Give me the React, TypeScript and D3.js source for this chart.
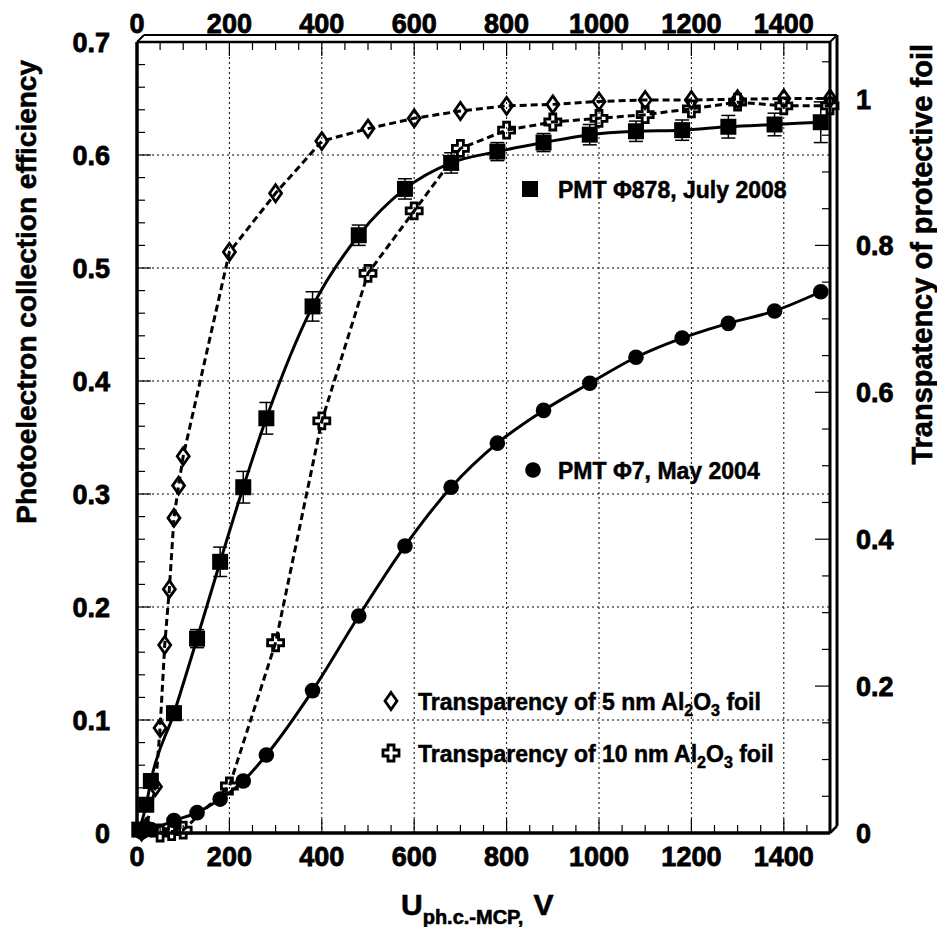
import React from "react";
import * as d3 from "d3";

// ---------- data ----------
const xTickValues = [0, 200, 400, 600, 800, 1000, 1200, 1400];
const leftTickValues = [0, 0.1, 0.2, 0.3, 0.4, 0.5, 0.6, 0.7];
const rightTickValues = [0, 0.2, 0.4, 0.6, 0.8, 1];
const gridX = [200, 400, 600, 800, 1000, 1200, 1400];
const gridY = [0.1, 0.2, 0.3, 0.4, 0.5, 0.6];

// PMT Φ878, July 2008 (left axis)
const squareX = [5, 20, 30, 80, 130, 180, 230, 280, 380, 480, 580, 680, 780, 880, 980, 1080, 1180, 1280, 1380, 1480];
const squareY = [0.003, 0.025, 0.046, 0.106, 0.172, 0.240, 0.306, 0.367, 0.466, 0.529, 0.570, 0.593, 0.603, 0.611, 0.618, 0.621, 0.622, 0.625, 0.627, 0.629];
const squareErr = [0.003, 0.005, 0.005, 0.006, 0.008, 0.013, 0.014, 0.014, 0.013, 0.009, 0.009, 0.009, 0.008, 0.008, 0.009, 0.009, 0.009, 0.010, 0.010, 0.018];

// PMT Φ7, May 2004 (left axis)
const circleX = [10, 30, 80, 130, 180, 230, 280, 380, 480, 580, 680, 780, 880, 980, 1080, 1180, 1280, 1380, 1480];
const circleY = [0.001, 0.003, 0.011, 0.018, 0.030, 0.046, 0.069, 0.126, 0.192, 0.254, 0.306, 0.345, 0.374, 0.398, 0.421, 0.438, 0.451, 0.462, 0.479];

// Transparency of 5 nm Al2O3 foil (right axis)
const diamondX = [10, 20, 40, 50, 60, 70, 80, 90, 100, 200, 300, 400, 500, 600, 700, 800, 900, 1000, 1100, 1200, 1300, 1400, 1500];
const diamondT = [0.002, 0.008, 0.063, 0.143, 0.256, 0.332, 0.429, 0.473, 0.513, 0.791, 0.871, 0.942, 0.959, 0.973, 0.983, 0.990, 0.992, 0.996, 0.998, 0.998, 0.999, 1.0, 1.0];

// Transparency of 10 nm Al2O3 foil (right axis)
const crossX = [50, 75, 100, 200, 300, 400, 500, 600, 700, 800, 900, 1000, 1100, 1200, 1300, 1400, 1500];
const crossT = [0.0, 0.002, 0.004, 0.064, 0.259, 0.561, 0.762, 0.847, 0.932, 0.957, 0.968, 0.973, 0.978, 0.986, 0.995, 0.990, 0.990];

// ---------- layout ----------
const W = 937;
const H = 927;
const L = 137, R = 830, T = 42, B = 833;
const OFF = 7;
const FONT = "'Liberation Sans', Arial, Helvetica, sans-serif";

const x = d3.scaleLinear().domain([0, 1500]).range([L, R]);
const yL = d3.scaleLinear().domain([0, 0.7]).range([B, T]);
const yR = d3.scaleLinear().domain([0, 0.7 / 0.65]).range([B, T]);

const crossPath = (a: number, l: number) =>
  `M${-a},${-l}H${a}V${-a}H${l}V${a}H${a}V${l}H${-a}V${a}H${-l}V${-a}H${-a}Z`;
const diamondPath = (w: number, h: number) => `M0,${-h}L${w},0L0,${h}L${-w},0Z`;

export default function App() {
  const sq = squareX.map((v, i) => [v, squareY[i], squareErr[i]]);
  const ci = circleX.map((v, i) => [v, circleY[i]]);
  const di = diamondX.map((v, i) => [v, diamondT[i]]);
  const cr = crossX.map((v, i) => [v, crossT[i]]);

  const smoothL = d3.line<number[]>().x((d) => x(d[0])).y((d) => yL(d[1])).curve(d3.curveMonotoneX);
  const linR = d3.line<number[]>().x((d) => x(d[0])).y((d) => yR(d[1]));

  const minorX = d3.range(0, 1501, 50);
  const minorL = d3.range(0, 0.7001, 0.02);
  const minorR = d3.range(0, 1.0501, 0.05);

  return (
    <svg width={W} height={H} style={{ position: "absolute", left: 0, top: 0, background: "#fff" }} fontFamily={FONT} fontWeight="bold">
      <rect x={0} y={0} width={W} height={H} fill="#fff" />
      {/* grid */}
      <g stroke="#000" strokeWidth={1} strokeDasharray="2,3">
        {gridX.map((v) => (
          <line key={"gx" + v} x1={x(v)} x2={x(v)} y1={T} y2={B} />
        ))}
        {gridY.map((v) => (
          <line key={"gy" + v} x1={L} x2={R} y1={yL(v)} y2={yL(v)} />
        ))}
      </g>

      {/* transparency dashed lines */}
      <path d={linR(di) || ""} fill="none" stroke="#000" strokeWidth={3} strokeDasharray="7,4" />
      <path d={linR(cr) || ""} fill="none" stroke="#000" strokeWidth={3} strokeDasharray="7,4" />
      {/* efficiency solid curves */}
      <path d={smoothL(sq) || ""} fill="none" stroke="#000" strokeWidth={3} />
      <path d={smoothL(ci) || ""} fill="none" stroke="#000" strokeWidth={3} />

      {/* markers: diamonds */}
      {di.map((d, i) => (
        <path key={"d" + i} d={diamondPath(6, 8.5)} transform={`translate(${x(d[0])},${yR(d[1])})`} fill="none" stroke="#000" strokeWidth={2.8} />
      ))}
      {/* markers: crosses */}
      {cr.map((d, i) => (
        <path key={"c" + i} d={crossPath(3, 8)} transform={`translate(${x(d[0])},${yR(d[1])})`} fill="none" stroke="#000" strokeWidth={2.8} />
      ))}
      {/* markers: circles */}
      {ci.map((d, i) => (
        <circle key={"o" + i} cx={x(d[0])} cy={yL(d[1])} r={7.8} fill="#000" />
      ))}
      {/* markers: squares with error bars */}
      {sq.map((d, i) => {
        const cx = x(d[0]);
        const y1 = yL(d[1] + d[2]);
        const y2 = yL(d[1] - d[2]);
        return (
          <g key={"s" + i}>
            <line x1={cx} x2={cx} y1={y1} y2={y2} stroke="#000" strokeWidth={1.5} />
            <line x1={cx - 7} x2={cx + 7} y1={y1} y2={y1} stroke="#000" strokeWidth={1.5} />
            <line x1={cx - 7} x2={cx + 7} y1={y2} y2={y2} stroke="#000" strokeWidth={1.5} />
            <rect x={cx - 8} y={yL(d[1]) - 8} width={16} height={16} fill="#000" />
          </g>
        );
      })}

      {/* frame */}
      <g fill="none" stroke="#000">
        <line x1={L} x2={R} y1={B} y2={B} strokeWidth={3.5} />
        <line x1={L} x2={L} y1={T} y2={B + 1.5} strokeWidth={3.5} />
        <line x1={L} x2={R} y1={T} y2={T} strokeWidth={2.5} />
        <line x1={R} x2={R} y1={T} y2={B} strokeWidth={3} />
        <line x1={L + OFF} x2={R + OFF} y1={T - OFF} y2={T - OFF} strokeWidth={2} />
        <line x1={R + OFF} x2={R + OFF} y1={T - OFF} y2={B - OFF} strokeWidth={3} />
        <line x1={L} x2={L + OFF} y1={T} y2={T - OFF} strokeWidth={2} />
        <line x1={R} x2={R + OFF} y1={T} y2={T - OFF} strokeWidth={2} />
        <line x1={R} x2={R + OFF} y1={B} y2={B - OFF} strokeWidth={2.5} />
      </g>

      {/* ticks */}
      <g stroke="#000" strokeWidth={1.2}>
        {minorX.map((v) => {
          const len = v % 200 === 0 ? 14 : 8;
          return (
            <g key={"tx" + v}>
              <line x1={x(v)} x2={x(v)} y1={B} y2={B - len} />
              <line x1={x(v)} x2={x(v)} y1={T} y2={T + len} />
            </g>
          );
        })}
        {minorL.map((v, i) => (
          <line key={"tl" + i} x1={L} x2={L + (i % 5 === 0 ? 14 : 8)} y1={yL(v)} y2={yL(v)} />
        ))}
        {minorR.map((v, i) => (
          <line key={"tr" + i} x1={R} x2={R - (i % 4 === 0 ? 15 : 8)} y1={yR(v)} y2={yR(v)} />
        ))}
      </g>

      {/* tick labels */}
      <g fontSize={27} fill="#000" stroke="#000" strokeWidth={0.8}>
        {xTickValues.map((v) => (
          <text key={"bx" + v} x={x(v)} y={866} textAnchor="middle">{v}</text>
        ))}
        {xTickValues.map((v) => (
          <text key={"tx" + v} x={x(v)} y={33} textAnchor="middle">{v}</text>
        ))}
        {leftTickValues.map((v) => (
          <text key={"ly" + v} x={110} y={yL(v) + 10} textAnchor="end">{v === 0 ? "0" : v.toFixed(1)}</text>
        ))}
        {rightTickValues.map((v) => (
          <text key={"ry" + v} x={856} y={yR(v) + 10} textAnchor="start">{v === 0 || v === 1 ? String(v) : v.toFixed(1)}</text>
        ))}
      </g>

      {/* axis titles */}
      <g fill="#000" stroke="#000" strokeWidth={0.6}>
        <text transform="translate(36,60) rotate(-90)" textAnchor="end" fontSize={28}>
          Photoelectron collection efficiency
        </text>
        <text transform="translate(932,44) rotate(-90)" textAnchor="end" fontSize={29}>
          Transpatency of protective foil
        </text>
        <text x={401} y={915} fontSize={30}>
          U
          <tspan fontSize={20} dy={9}>ph.c.-MCP,</tspan>
          <tspan fontSize={30} dy={-9} dx={10}>V</tspan>
        </text>
      </g>

      {/* legends */}
      <g fontSize={23} fill="#000">
        <rect x={522} y={181} width={16} height={16} fill="#000" />
        <circle cx={533} cy={470} r={7.8} fill="#000" />
        <path d={diamondPath(6, 8.5)} transform="translate(391,701)" fill="#fff" stroke="#000" strokeWidth={2.8} />
        <path d={crossPath(3, 8)} transform="translate(391,753)" fill="#fff" stroke="#000" strokeWidth={2.8} />
        <g stroke="#000" strokeWidth={0.5}>
          <text x={558} y={198}>PMT Φ878, July 2008</text>
          <text x={558} y={479}>PMT Φ7, May 2004</text>
          <text x={418} y={710}>
            Transparency of 5 nm Al
            <tspan fontSize={16} dy={6}>2</tspan>
            <tspan dy={-6}>O</tspan>
            <tspan fontSize={16} dy={6}>3</tspan>
            <tspan dy={-6}> foil</tspan>
          </text>
          <text x={418} y={762}>
            Transparency of 10 nm Al
            <tspan fontSize={16} dy={6}>2</tspan>
            <tspan dy={-6}>O</tspan>
            <tspan fontSize={16} dy={6}>3</tspan>
            <tspan dy={-6}> foil</tspan>
          </text>
        </g>
      </g>
    </svg>
  );
}
